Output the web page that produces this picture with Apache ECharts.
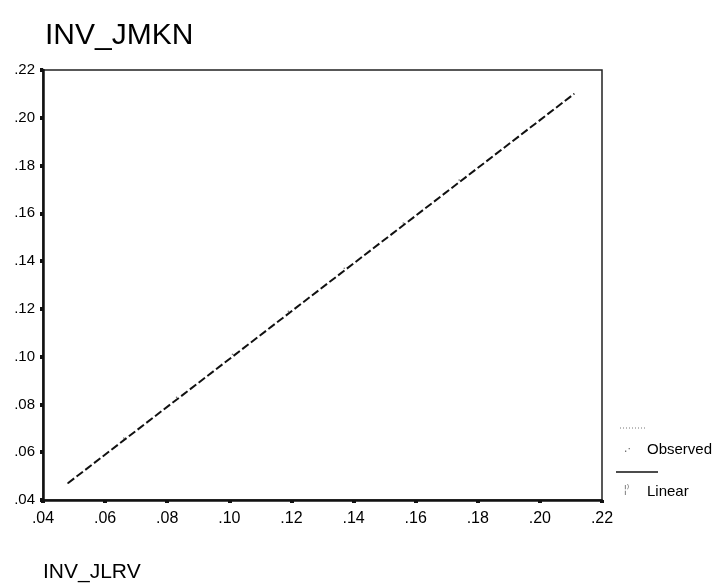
<!DOCTYPE html>
<html>
<head>
<meta charset="utf-8">
<script src="https://cdn.jsdelivr.net/npm/echarts@6/dist/echarts.min.js"></script>
<style>
  html, body { margin: 0; padding: 0; background: #fff; }
  #chart { width: 722px; height: 586px; }
</style>
</head>
<body>
<div id="chart"></div>
<script>
// values
const xTicks = ['.04', '.06', '.08', '.10', '.12', '.14', '.16', '.18', '.20', '.22'];
const yTicks = ['.04', '.06', '.08', '.10', '.12', '.14', '.16', '.18', '.20', '.22'];
const observedX = [0.048, 0.066, 0.083, 0.101, 0.119, 0.137, 0.156, 0.174, 0.193, 0.211];
const observedY = [0.047, 0.066, 0.083, 0.101, 0.119, 0.137, 0.156, 0.174, 0.192, 0.210];
const linearX = [0.048, 0.211];
const linearY = [0.047, 0.210];

const chart = echarts.init(document.getElementById('chart'), null, { renderer: 'canvas' });

const font = 'Arial, "Liberation Sans", sans-serif';
const tickFmt = list => v => {
  const i = Math.round((v - 0.04) / 0.02);
  return list[i] !== undefined ? list[i] : '';
};

const option = {
  animation: false,
  backgroundColor: '#fff',
  title: {
    text: 'INV_JMKN',
    left: 40, top: 16,
    textStyle: { fontFamily: font, fontSize: 30, fontWeight: 'normal', color: '#000' }
  },
  grid: {
    left: 43, right: 120, top: 70, bottom: 86,
    show: true, borderColor: '#222', borderWidth: 1.5
  },
  xAxis: {
    type: 'value', min: 0.04, max: 0.22, interval: 0.02,
    splitLine: { show: false },
    axisLine: { lineStyle: { color: '#111', width: 2.5 } },
    axisTick: { length: 3, lineStyle: { color: '#111', width: 4 } },
    axisLabel: { formatter: tickFmt(xTicks), fontFamily: font, fontSize: 16, color: '#000', margin: 11 }
  },
  yAxis: {
    type: 'value', min: 0.04, max: 0.22, interval: 0.02,
    splitLine: { show: false },
    axisLine: { lineStyle: { color: '#111', width: 2.5 } },
    axisTick: { length: 3, lineStyle: { color: '#111', width: 4 } },
    axisLabel: { formatter: tickFmt(yTicks), fontFamily: font, fontSize: 15, color: '#000', margin: 8 }
  },
  series: [
    {
      name: 'Observed',
      type: 'scatter',
      data: observedX.map((x, i) => [x, observedY[i]]),
      symbolSize: 1.5,
      itemStyle: { color: '#444' },
      silent: true
    },
    {
      name: 'Linear',
      type: 'line',
      data: linearX.map((x, i) => [x, linearY[i]]),
      showSymbol: false,
      lineStyle: { color: '#111', width: 2, type: [8, 3] },
      silent: true
    }
  ],
  graphic: [
    { type: 'text', left: 43, top: 562,
      style: { text: 'INV_JLRV', font: '21px ' + font, fill: '#000' } },
    // legend
    { type: 'line', shape: { x1: 620, y1: 428, x2: 645, y2: 428 },
      style: { stroke: '#777', lineWidth: 1, lineDash: [1, 2] } },
    { type: 'text', left: 624, top: 443,
      style: { text: '.·', font: '12px ' + font, fill: '#666' } },
    { type: 'text', left: 647, top: 442,
      style: { text: 'Observed', font: '15px ' + font, fill: '#000' } },
    { type: 'line', shape: { x1: 616, y1: 472, x2: 658, y2: 472 },
      style: { stroke: '#111', lineWidth: 1.5 } },
    { type: 'text', left: 624, top: 485,
      style: { text: '¦⁾', font: '10px ' + font, fill: '#666' } },
    { type: 'text', left: 647, top: 484,
      style: { text: 'Linear', font: '15px ' + font, fill: '#000' } }
  ]
};

chart.setOption(option);
</script>
</body>
</html>
